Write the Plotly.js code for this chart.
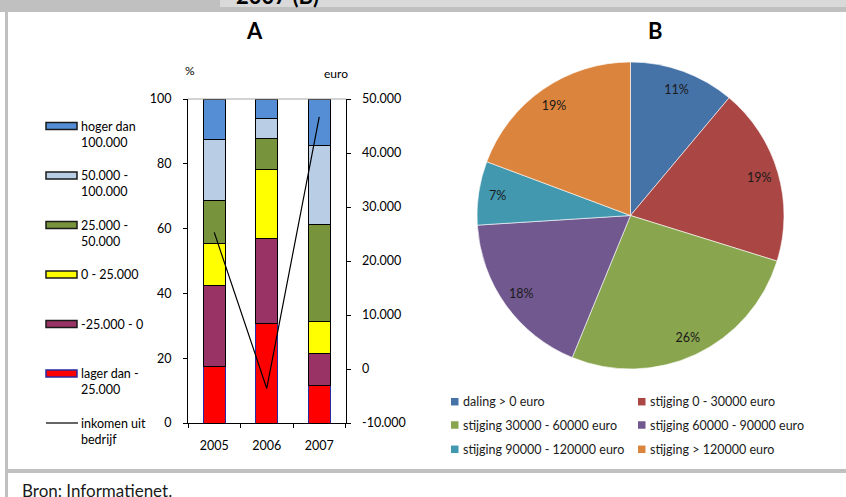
<!DOCTYPE html>
<html>
<head>
<meta charset="utf-8">
<script src="https://cdn.plot.ly/plotly-3.0.1.min.js"></script>
<style>
  html, body { margin: 0; padding: 0; background: #ffffff; }
  #chart { width: 846px; height: 497px; }
</style>
</head>
<body>
<div id="chart"></div>
<script>
// ---------------- DATA ----------------
const years = ['2005', '2006', '2007'];

// Income classes of chart A (bottom of the stack first)
const incomeClasses = [
  'lager dan -<br>25.000',
  '-25.000 - 0',
  '0 - 25.000',
  '25.000 -<br>50.000',
  '50.000 -<br>100.000',
  'hoger dan<br>100.000'
];
// Share of farms per class (%), per year
const shareLagerDan = [17.3, 30.8, 11.7];
const shareMin25To0 = [25.0, 26.1, 9.8];
const share0To25 = [13.2, 21.4, 9.7];
const share25To50 = [13.3, 9.6, 30.1];
const share50To100 = [18.8, 6.1, 24.4];
const shareHoger100 = [12.4, 6.0, 14.3];

const incomeLineName = 'inkomen uit<br>bedrijf';
const incomeFromFarm = [25300, -3600, 46700];   // euro, right axis

const leftTicks = [0, 20, 40, 60, 80, 100];
const rightTicks = [-10000, 0, 10000, 20000, 30000, 40000, 50000];
const rightTickLabels = ['-10.000', '0', '10.000', '20.000', '30.000', '40.000', '50.000'];

// Chart B
const pieLabels = [
  'daling > 0 euro',
  'stijging 0 - 30000 euro',
  'stijging 30000 - 60000 euro',
  'stijging 60000 - 90000 euro',
  'stijging 90000 - 120000 euro',
  'stijging > 120000 euro'
];
const pieValues = [11.1, 18.7, 26.4, 17.8, 6.7, 19.3];

const titleA = 'A';
const titleB = 'B';
const unitLeft = '%';
const unitRight = 'euro';
const headerText = '2007 (B)';
const sourceText = 'Bron: Informatienet.';

// ---------------- STYLE ----------------
const W = 846, H = 497;
const px = x => x / W;
const py = y => 1 - y / H;
const FONT = 'Lato, "Liberation Sans", sans-serif';

const classColors = ['#ff0000', '#993366', '#ffff00', '#77933c', '#b9cde5', '#558ed5'];
const classLineColors = ['#2a2aa0', '#000000', '#000000', '#000000', '#000000', '#000000'];
const pieColors = ['#4572a7', '#aa4643', '#89a54e', '#71588f', '#4198af', '#db843d'];

const classValues = [shareLagerDan, shareMin25To0, share0To25, share25To50, share50To100, shareHoger100];

// ---------------- TRACES ----------------
const traces = [];
classValues.forEach((vals, i) => {
  traces.push({
    type: 'bar',
    name: incomeClasses[i].replace('<br>', ' '),
    x: years,
    y: vals,
    xaxis: 'x',
    yaxis: 'y',
    marker: { color: classColors[i], line: { color: classLineColors[i], width: 1 } },
    showlegend: false,
    hoverinfo: 'name+y'
  });
});
traces.push({
  type: 'scatter',
  mode: 'lines',
  name: incomeLineName.replace('<br>', ' '),
  x: years,
  y: incomeFromFarm,
  xaxis: 'x',
  yaxis: 'y2',
  line: { color: '#000000', width: 1.2 },
  showlegend: false
});
const pieDomain = { x: [px(477), px(784)], y: [py(369), py(62)] };
// the slices
traces.push({
  type: 'pie',
  labels: pieLabels,
  values: pieValues,
  sort: false,
  direction: 'clockwise',
  rotation: 0,
  domain: pieDomain,
  marker: { colors: pieColors, line: { color: '#ffffff', width: 0.6 } },
  textinfo: 'none',
  showlegend: false,
  hoverinfo: 'label+percent'
});
// percentage labels placed near the rim (same data, transparent ring)
traces.push({
  type: 'pie',
  labels: pieLabels,
  values: pieValues,
  sort: false,
  direction: 'clockwise',
  rotation: 0,
  hole: 0.75,
  domain: pieDomain,
  marker: { colors: pieColors.map(() => 'rgba(0,0,0,0)'), line: { width: 0 } },
  textposition: 'inside',
  insidetextorientation: 'horizontal',
  texttemplate: '%{percent:.0%}',
  textfont: { family: FONT, size: 12.5, color: '#1a1a1a' },
  showlegend: false,
  hoverinfo: 'skip'
});

// ---------------- SHAPES & ANNOTATIONS ----------------
const shapes = [];
const annotations = [];

// frame
const rect = (x0, y0, x1, y1, fill) => ({
  type: 'rect', xref: 'paper', yref: 'paper',
  x0: px(x0), x1: px(x1), y0: py(y1), y1: py(y0),
  fillcolor: fill, line: { width: 0 }, layer: 'above'
});
shapes.push(rect(0, 0, W, 12, '#c0c0c0'));
shapes.push(rect(220, 0, W, 7, '#d9d9d9'));
shapes.push(rect(5, 12, 8, H, '#c0c0c0'));
shapes.push(rect(8, 469, W, 473, '#c0c0c0'));

// top border of plot A
shapes.push({
  type: 'line', xref: 'paper', yref: 'paper',
  x0: px(188), x1: px(346), y0: py(99), y1: py(99),
  line: { color: '#a6a6a6', width: 1 }, layer: 'above'
});

const txt = (x, y, text, size, opts = {}) => Object.assign({
  xref: 'paper', yref: 'paper', x: px(x), y: py(y), text: text,
  showarrow: false, xanchor: 'center', yanchor: 'middle',
  font: { family: FONT, size: size, color: '#000000' }
}, opts);

annotations.push(txt(234, 11, '<b>' + headerText + '</b>', 22, { xanchor: 'left', yanchor: 'bottom' }));
annotations.push(txt(254.5, 31, '<b>' + titleA + '</b>', 22));
annotations.push(txt(655, 31, '<b>' + titleB + '</b>', 22));
annotations.push(txt(190, 71, unitLeft, 12));
annotations.push(txt(335.5, 74, unitRight, 12));
annotations.push(txt(20, 490, sourceText, 17, { xanchor: 'left', font: { family: FONT, size: 17, color: '#1a1a1a' } }));

// legend A (top to bottom: highest class first)
const LEG_FS = 12.5;
const legendTop = 126, legendStep = 49.5, lineH = LEG_FS * 1.3;
const legendLabel = (yc, label) => {
  const n = label.split('<br>').length;
  annotations.push(txt(79, yc + (n - 1) * lineH / 2, label, LEG_FS, { xanchor: 'left', align: 'left' }));
};
for (let k = 0; k < incomeClasses.length; k++) {
  const i = incomeClasses.length - 1 - k;
  const yc = legendTop + legendStep * k;
  shapes.push({
    type: 'rect', xref: 'paper', yref: 'paper',
    x0: px(46), x1: px(77), y0: py(yc + 3.5), y1: py(yc - 3.5),
    fillcolor: classColors[i], line: { color: classLineColors[i] === '#000000' ? '#1a1a1a' : classLineColors[i], width: 1.5 },
    layer: 'above'
  });
  legendLabel(yc, incomeClasses[i]);
}
{
  const yc = legendTop + legendStep * incomeClasses.length;
  shapes.push({
    type: 'line', xref: 'paper', yref: 'paper',
    x0: px(46), x1: px(78), y0: py(yc), y1: py(yc),
    line: { color: '#000000', width: 1.2 }, layer: 'above'
  });
  legendLabel(yc, incomeLineName);
}

// legend B (2 columns, 3 rows)
const pieLegCols = [451, 638], pieLegRows = [401.7, 425, 449.3];
pieLabels.forEach((lab, i) => {
  const cx = pieLegCols[i % 2], cy = pieLegRows[Math.floor(i / 2)];
  shapes.push({
    type: 'rect', xref: 'paper', yref: 'paper',
    x0: px(cx), x1: px(cx + 7.5), y0: py(cy + 3.75), y1: py(cy - 3.75),
    fillcolor: pieColors[i], line: { width: 0 }, layer: 'above'
  });
  annotations.push(txt(cx + 10, cy, lab, 12.5, { xanchor: 'left', font: { family: FONT, size: 12.5, color: '#1a1a1a' } }));
});

// ---------------- LAYOUT ----------------
const axisCommon = {
  showline: true, linecolor: '#000000', linewidth: 1,
  ticks: 'outside', ticklen: 4, tickcolor: '#000000', tickwidth: 1,
  showgrid: false, zeroline: false, fixedrange: true,
  tickfont: { family: FONT, size: 12.5, color: '#000000' }
};

const layout = {
  width: W, height: H,
  margin: { l: 0, r: 0, t: 0, b: 0, pad: 0 },
  paper_bgcolor: '#ffffff', plot_bgcolor: '#ffffff',
  showlegend: false,
  barmode: 'stack',
  bargap: 0.58,
  font: { family: FONT, size: 12.5, color: '#000000' },
  xaxis: Object.assign({}, axisCommon, {
    domain: [px(188), px(345.5)],
    anchor: 'y',
    type: 'category',
    categoryorder: 'array', categoryarray: years,
    tickson: 'boundaries',
    ticklen: 4,
    ticklabelstandoff: 11
  }),
  yaxis: Object.assign({}, axisCommon, {
    domain: [py(423), py(99)],
    anchor: 'x',
    range: [0, 100],
    tickmode: 'array', tickvals: leftTicks,
    ticklabelstandoff: 9
  }),
  yaxis2: Object.assign({}, axisCommon, {
    overlaying: 'y', side: 'right', anchor: 'x',
    range: [-10000, 50000],
    tickmode: 'array', tickvals: rightTicks, ticktext: rightTickLabels,
    ticklabelstandoff: 9
  }),
  shapes: shapes,
  annotations: annotations
};

Plotly.newPlot('chart', traces, layout, { staticPlot: true, displayModeBar: false });
</script>
</body>
</html>
